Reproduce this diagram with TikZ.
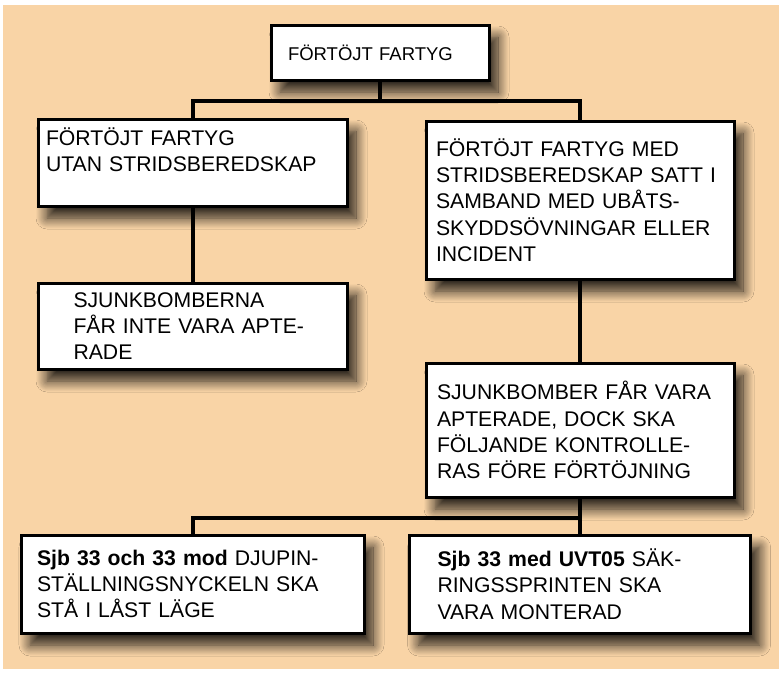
\documentclass[tikz,border=0pt]{standalone}
\usepackage{fontspec}
\setmainfont{Liberation Sans}
\usetikzlibrary{positioning,shadows.blur}
\definecolor{peach}{HTML}{F9D4A6}

\begin{document}
\begin{tikzpicture}[
x=1pt, y=-1pt,
font=\fontsize{21.2}{26.3}\selectfont,
box/.style={rectangle, draw=black, line width=3pt, fill=white, align=left, inner sep=0pt,
  blur shadow={shadow xshift=9pt, shadow yshift=-12pt, shadow blur radius=11pt,
  shadow blur steps=12, shadow opacity=85}},
conn/.style={line width=4pt},
]
\useasboundingbox (0,0) rectangle (779,675);
\fill[peach] (3,5) rectangle (779,669);

%Nodes
\node[box, minimum width=218pt, minimum height=55pt, text width=184pt,
  font=\fontsize{18.5}{22}\selectfont] (root) at (380,52.5) {FÖRTÖJT FARTYG};
\node[box, minimum width=309pt, minimum height=87pt, text width=293pt] (nocombat) at (192.5,162.5)
  {FÖRTÖJT FARTYG\\UTAN STRIDSBEREDSKAP\\\mbox{}};
\node[box, minimum width=308pt, minimum height=158pt, text width=288pt] (combat) at (580,200)
  {FÖRTÖJT FARTYG MED\\STRIDSBEREDSKAP SATT I\\SAMBAND MED UBÅTS-\\SKYDDSÖVNINGAR ELLER\\INCIDENT};
\node[box, minimum width=309pt, minimum height=86pt, text width=238pt] (notarmed) [below=74pt of nocombat]
  {SJUNKBOMBERNA\\FÅR INTE VARA APTE-\\RADE};
\node[box, minimum width=308pt, minimum height=134pt, text width=286pt] (armed) [below=81pt of combat]
  {SJUNKBOMBER FÅR VARA\\APTERADE, DOCK SKA\\FÖLJANDE KONTROLLE-\\RAS FÖRE FÖRTÖJNING};
\node[box, minimum width=343pt, minimum height=98pt, text width=311pt] (depthkey) at (192.5,584)
  {\textbf{Sjb 33 och 33 mod} DJUPIN-\\STÄLLNINGSNYCKELN SKA\\STÅ I LÅST LÄGE};
\node[box, minimum width=341pt, minimum height=98pt, text width=285pt] (safetypin) at (580,584)
  {\textbf{Sjb 33 med UVT05} SÄK-\\RINGSSPRINTEN SKA\\VARA MONTERAD};

%Lines
\draw[conn] (root.south) -- ++(0,19) -| (nocombat.north);
\draw[conn] (root.south) -- ++(0,19) -| (combat.north);
\draw[conn] (nocombat) -- (notarmed);
\draw[conn] (combat) -- (armed);
\draw[conn] (armed.south) -- ++(0,19) -| (depthkey.north);
\draw[conn] (armed.south) -- (safetypin.north);
\end{tikzpicture}
\end{document}
